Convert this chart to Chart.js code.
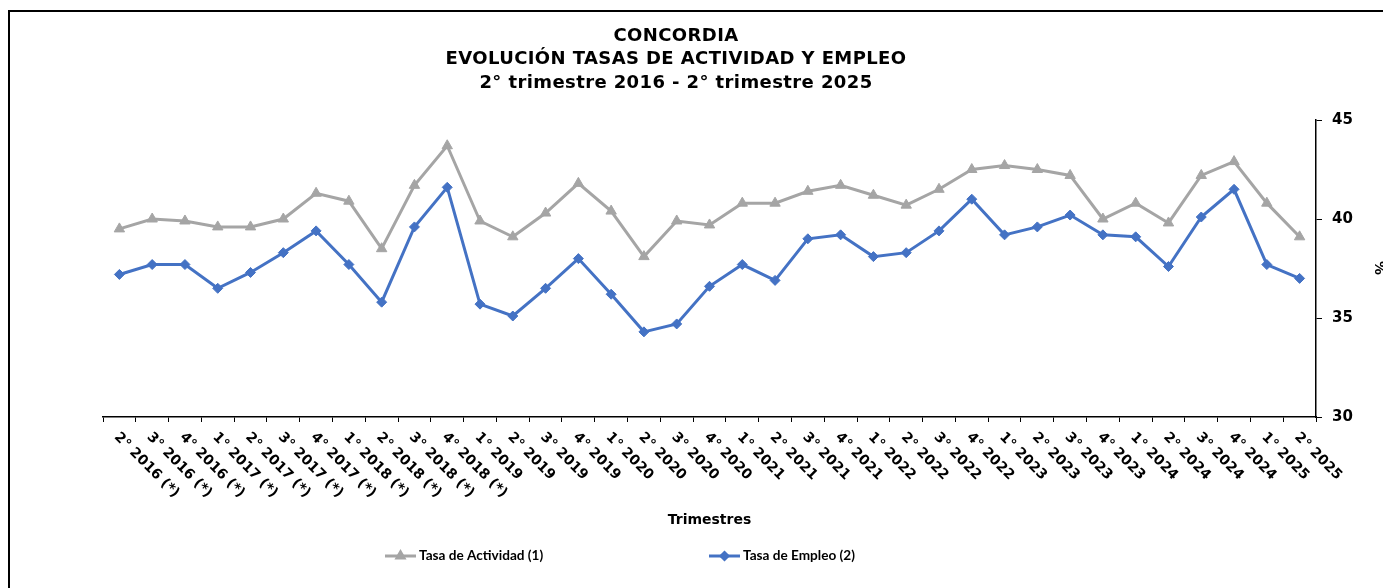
<!DOCTYPE html>
<html>
<head>
<meta charset="utf-8">
<script src="https://cdn.jsdelivr.net/npm/chart.js@4"></script>
<style>
  html, body { margin: 0; padding: 0; background: #fff; overflow: hidden; }
  #wrap { position: relative; width: 1383px; height: 588px; }
  #marco { position: absolute; left: 8px; top: 10px; right: -5px; bottom: -5px; border-left: 2px solid #000; border-top: 2px solid #000; pointer-events: none; }
</style>
</head>
<body>
<div id="wrap">
  <canvas id="lineChart" width="1383" height="588"></canvas>
  <div id="marco"></div>
</div>
<script>
// Trimestres (etiquetas del eje X)
let trimestres = [
  '2° 2016 (*)', '3° 2016 (*)', '4° 2016 (*)',
  '1° 2017 (*)', '2° 2017 (*)', '3° 2017 (*)', '4° 2017 (*)',
  '1° 2018 (*)', '2° 2018 (*)', '3° 2018 (*)', '4° 2018 (*)',
  '1° 2019', '2° 2019', '3° 2019', '4° 2019',
  '1° 2020', '2° 2020', '3° 2020', '4° 2020',
  '1° 2021', '2° 2021', '3° 2021', '4° 2021',
  '1° 2022', '2° 2022', '3° 2022', '4° 2022',
  '1° 2023', '2° 2023', '3° 2023', '4° 2023',
  '1° 2024', '2° 2024', '3° 2024', '4° 2024',
  '1° 2025', '2° 2025'
];

// Tasa de Actividad (1)
let tasaActividad = [
  39.5, 40.0, 39.9,
  39.6, 39.6, 40.0, 41.3,
  40.9, 38.5, 41.7, 43.7,
  39.9, 39.1, 40.3, 41.8,
  40.4, 38.1, 39.9, 39.7,
  40.8, 40.8, 41.4, 41.7,
  41.2, 40.7, 41.5, 42.5,
  42.7, 42.5, 42.2, 40.0,
  40.8, 39.8, 42.2, 42.9,
  40.8, 39.1
];

// Tasa de Empleo (2)
let tasaEmpleo = [
  37.2, 37.7, 37.7,
  36.5, 37.3, 38.3, 39.4,
  37.7, 35.8, 39.6, 41.6,
  35.7, 35.1, 36.5, 38.0,
  36.2, 34.3, 34.7, 36.6,
  37.7, 36.9, 39.0, 39.2,
  38.1, 38.3, 39.4, 41.0,
  39.2, 39.6, 40.2, 39.2,
  39.1, 37.6, 40.1, 41.5,
  37.7, 37.0
];

// Marcas del eje Y
let ticksY = [30, 35, 40, 45];

let tituloLineas = ['CONCORDIA', 'EVOLUCIÓN TASAS DE ACTIVIDAD Y EMPLEO', '2° trimestre 2016 - 2° trimestre 2025'];

let gris = '#A5A5A5';
let azul = '#4472C4';
let fuente = '"DejaVu Sans", sans-serif';

// Plugin para dibujar título, etiquetas giradas, leyenda, etc.
let extrasPlugin = {
  id: 'extras',
  afterDraw(chart) {
    let ctx = chart.ctx;
    let x = chart.scales.x;
    let area = chart.chartArea;
    let centro = (area.left + area.right) / 2;
    ctx.save();
    ctx.fillStyle = '#000';

    // Título
    ctx.textAlign = 'center';
    ctx.textBaseline = 'middle';
    ctx.font = 'bold 18px ' + fuente;
    ctx.letterSpacing = '0.4px';
    [36, 59, 83].forEach((y, i) => ctx.fillText(tituloLineas[i], 676, y));
    ctx.letterSpacing = '0px';

    // Etiquetas del eje X (giradas 45°)
    ctx.font = 'bold 14px ' + fuente;
    ctx.textAlign = 'left';
    trimestres.forEach((lbl, i) => {
      let px = x.getPixelForValue(i);
      ctx.save();
      ctx.translate(px - 3, area.bottom + 18);
      ctx.rotate(Math.PI / 4);
      ctx.fillText(lbl, 0, 0);
      ctx.restore();
    });

    // Título del eje X
    ctx.textAlign = 'center';
    ctx.font = 'bold 14px ' + fuente;
    ctx.fillText('Trimestres', centro, 520);

    // "%" del eje Y
    ctx.save();
    ctx.translate(1379, 268);
    ctx.rotate(Math.PI / 2);
    ctx.font = 'bold 14px ' + fuente;
    ctx.fillText('%', 0, 0);
    ctx.restore();

    // Leyenda
    let items = [
      { x: 385, texto: 'Tasa de Actividad (1)', color: gris, estilo: 'triangle', r: 4 },
      { x: 709, texto: 'Tasa de Empleo (2)', color: azul, estilo: 'rectRot', r: 3.5 }
    ];
    items.forEach(it => {
      let y = 556;
      ctx.strokeStyle = it.color;
      ctx.lineWidth = 3;
      ctx.beginPath();
      ctx.moveTo(it.x, y);
      ctx.lineTo(it.x + 31, y);
      ctx.stroke();
      Chart.helpers.drawPoint(ctx, { pointStyle: it.estilo, radius: it.r, borderWidth: 1 }, it.x + 15.5, y);
      ctx.fillStyle = it.color;
      ctx.fill();
      ctx.fillStyle = '#000';
      ctx.textAlign = 'left';
      ctx.font = 'bold 13.6px Lato, sans-serif';
      ctx.fillText(it.texto, it.x + 34, y);
    });
    ctx.restore();
  }
};

let config = {
  type: 'line',
  data: {
    labels: trimestres,
    datasets: [
      { label: 'Tasa de Actividad (1)', data: tasaActividad, borderColor: gris, backgroundColor: gris, borderWidth: 3, pointStyle: 'triangle', pointRadius: 6, pointHoverRadius: 6, pointBorderWidth: 1, tension: 0 },
      { label: 'Tasa de Empleo (2)', data: tasaEmpleo, borderColor: azul, backgroundColor: azul, borderWidth: 3, pointStyle: 'rectRot', pointRadius: 5, pointHoverRadius: 5, pointBorderWidth: 1, tension: 0 }
    ]
  },
  options: {
    responsive: false,
    animation: false,
    devicePixelRatio: 1,
    layout: { padding: { left: 103, top: 120, right: 0, bottom: 0 } },
    plugins: { legend: { display: false }, title: { display: false }, tooltip: { enabled: false } },
    scales: {
      x: {
        offset: true,
        grid: { offset: true, drawOnChartArea: false, drawTicks: true, tickLength: 5, color: '#000', lineWidth: 1 },
        border: { display: true, color: '#000', width: 1.5 },
        ticks: { display: false },
        afterFit(scale) { scale.height = 171; }
      },
      y: {
        position: 'right',
        min: 30,
        max: 45,
        afterBuildTicks(scale) { scale.ticks = ticksY.map(v => ({ value: v })); },
        grid: { drawOnChartArea: false, drawTicks: true, tickLength: 6, color: '#000', lineWidth: 1 },
        border: { display: true, color: '#000', width: 1.5 },
        ticks: { color: '#000', padding: 10, font: { family: fuente, weight: 'bold', size: 15 } },
        afterFit(scale) { scale.width = 67; }
      }
    }
  },
  plugins: [extrasPlugin]
};

let ctx = document.getElementById('lineChart').getContext('2d');
let lineChart = new Chart(ctx, config);
</script>
</body>
</html>
